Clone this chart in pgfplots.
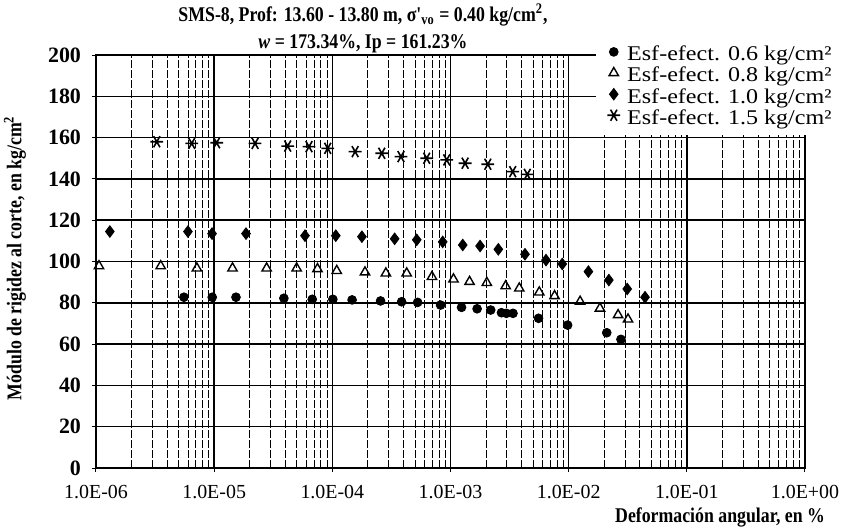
\documentclass[border=0pt]{standalone}
\usepackage{pgfplots}
\pgfplotsset{compat=1.18}
\usepackage{fontspec}
\setmainfont{Liberation Serif}
\newfontfamily\condfont[FakeStretch=0.85]{Liberation Serif}
\newfontfamily\legfont[FakeStretch=1.15]{Liberation Serif}
\begin{document}
\begin{tikzpicture}
\useasboundingbox (-48bp,-31bp) rectangle (375bp,234bp);
\begin{axis}[
  at={(0,0)}, anchor=south west,
  scale only axis, width=354.5bp, height=206.5bp,
  xmode=log, xmin=1e-6, xmax=1, ymin=0, ymax=200,
  clip=false,
  xtick={1e-6,1e-5,1e-4,1e-3,1e-2,1e-1,1},
  xticklabels={1.0E-06,1.0E-05,1.0E-04,1.0E-03,1.0E-02,1.0E-01,1.0E+00},
  minor xtick={2e-6,3e-6,4e-6,5e-6,6e-6,7e-6,8e-6,9e-6,
    2e-5,3e-5,4e-5,5e-5,6e-5,7e-5,8e-5,9e-5,
    2e-4,3e-4,4e-4,5e-4,6e-4,7e-4,8e-4,9e-4,
    2e-3,3e-3,4e-3,5e-3,6e-3,7e-3,8e-3,9e-3,
    2e-2,3e-2,4e-2,5e-2,6e-2,7e-2,8e-2,9e-2,
    2e-1,3e-1,4e-1,5e-1,6e-1,7e-1,8e-1,9e-1},
  ytick={0,20,...,200},
  xmajorgrids, xminorgrids, ymajorgrids,
  major grid style={black, line width=0.75bp},
  minor grid style={black, line width=0.4bp, dash pattern=on 4bp off 1bp},
  axis line style={black, line width=0.8bp},
  tick style={black, line width=0.5bp},
  major tick length=2bp, minor tick length=0pt,
  tick align=outside, xtick pos=bottom, ytick pos=left,
  xticklabel style={font=\fontsize{10}{12}\selectfont, yshift=-3bp},
  yticklabel style={font=\bfseries\fontsize{11}{12}\selectfont, xshift=-2bp},
  /pgf/number format/assume math mode=true,
  legend style={at={(axis description cs:0.7052,1.0315)}, anchor=north west,
    draw=none, fill=white, font=\legfont\fontsize{10.5}{12}\selectfont,
    inner xsep=5.5bp, inner ysep=2bp, column sep=3.5bp, row sep=0pt,
    nodes={inner sep=0pt, text height=7.2bp, text depth=3.3bp}},
  legend cell align=left,
  legend image code/.code={\draw[mark repeat=2, mark phase=2] plot coordinates {(-4bp,2.5bp)(0bp,2.5bp)(4bp,2.5bp)};},
]
\addplot[only marks, mark=*, mark size=2.2bp, black] coordinates {
(5.55e-6,82.7) (9.63e-6,82.7) (1.53e-5,82.7) (3.89e-5,82.2) (6.76e-5,81.7)
(1.01e-4,81.7) (1.47e-4,81.4) (2.56e-4,80.9) (3.86e-4,80.5) (5.27e-4,80.2)
(8.24e-4,78.9) (1.24e-3,77.8) (1.68e-3,77.1) (2.19e-3,76.5) (2.70e-3,75.2)
(2.97e-3,74.9) (3.38e-3,74.9) (5.56e-3,72.5) (9.80e-3,69.2) (2.10e-2,65.5)
(2.77e-2,62.3)};
\addlegendentry{Esf-efect. 0.6 kg/cm²}
\addplot[only marks, mark=triangle, mark size=2.7bp, black, mark options={fill=white, line width=0.7bp}] coordinates {
(1.06e-6,97.8) (3.53e-6,97.8) (7.14e-6,96.7) (1.43e-5,96.7) (2.78e-5,96.7)
(4.99e-5,96.7) (7.49e-5,96.4) (1.09e-4,95.5) (1.89e-4,94.8) (2.84e-4,94.3)
(4.26e-4,94.3) (6.97e-4,92.6) (1.06e-3,91.4) (1.45e-3,90.2) (2.03e-3,89.7)
(2.93e-3,88.1) (3.82e-3,87.0) (5.64e-3,85.1) (7.60e-3,83.3) (1.25e-2,80.6)
(1.84e-2,77.3) (2.62e-2,74.1) (3.18e-2,72.0)};
\addlegendentry{Esf-efect. 0.8 kg/cm²}
\addplot[only marks, mark=diamond*, mark size=2.9bp, black] coordinates {
(1.31e-6,114.5) (6.0e-6,114.5) (9.6e-6,113.5) (1.86e-5,113.5) (5.87e-5,112.5)
(1.07e-4,112.5) (1.78e-4,112.0) (3.37e-4,111.0) (5.18e-4,110.5) (8.59e-4,109.5)
(1.27e-3,108.0) (1.78e-3,107.5) (2.54e-3,105.9) (4.27e-3,103.5) (6.43e-3,100.7)
(8.83e-3,98.8) (1.47e-2,95.1) (2.19e-2,91.0) (3.13e-2,86.7) (4.43e-2,82.7)};
\addlegendentry{Esf-efect. 1.0 kg/cm²}
\addplot[only marks, mark=asterisk, mark size=3.2bp, black, mark options={rotate=90, line width=0.8bp}] coordinates {
(3.27e-6,158.0) (6.46e-6,157.2) (1.05e-5,157.5) (2.22e-5,157.2) (4.19e-5,155.9)
(6.35e-5,155.6) (9.14e-5,154.8) (1.56e-4,153.2) (2.62e-4,152.4) (3.81e-4,150.8)
(6.29e-4,150.0) (9.29e-4,149.2) (1.33e-3,147.6) (2.07e-3,147.1) (3.36e-3,143.5)
(4.47e-3,142.2)};
\addlegendentry{Esf-efect. 1.5 kg/cm²}
\end{axis}
\node[font=\condfont\bfseries\fontsize{10.5}{12}\selectfont] at (133.5bp,226.5bp)
  {SMS-8, Prof: 13.60 - 13.80 m, σ'\textsubscript{vo} = 0.40 kg/cm\textsuperscript{2},};
\node[font=\condfont\bfseries\fontsize{10.5}{12}\selectfont] at (133.5bp,212bp)
  {\textit{w} = 173.34\%, Ip = 161.23\%};
\node[font=\condfont\bfseries\fontsize{10.5}{12}\selectfont, rotate=90, anchor=center] at (-40.5bp,105bp)
  {Módulo de rigidez al corte, en kg/cm\textsuperscript{2}};
\node[font=\condfont\bfseries\fontsize{10.5}{12}\selectfont, anchor=east] at (368bp,-24.5bp)
  {Deformación angular, en \%};
\end{tikzpicture}
\end{document}
